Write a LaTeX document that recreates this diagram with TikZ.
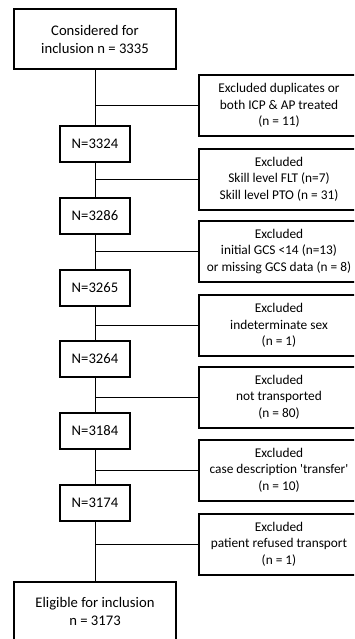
\documentclass[tikz,border=0pt]{standalone}
\usepackage{fontspec}
\setmainfont{Carlito}
\begin{document}
\begin{tikzpicture}[x=0.75pt,y=-0.75pt,
  mainbox/.style={draw,line width=1.5pt,fill=white,align=center,font=\fontsize{11}{13.5}\selectfont,inner sep=0pt},
  nbox/.style={mainbox,minimum width=52.5pt,minimum height=27pt},
  bigbox/.style={mainbox,minimum width=121.5pt,minimum height=45pt},
  exbox/.style={draw,line width=1.5pt,fill=white,align=center,font=\fontsize{10}{12.5}\selectfont,inner sep=0pt,minimum width=120pt,minimum height=45.75pt},
  link/.style={line width=0.75pt}]
\useasboundingbox (0,0) rectangle (354,639);
\clip (0,0) rectangle (354,639);
\fill[white] (0,0) rectangle (354,639);
% main column
\node[bigbox] (top) at (95,39) {Considered for\\inclusion n = 3335};
\node[nbox] (n1) at (95,144) {N=3324};
\node[nbox] (n2) at (95,215.5) {N=3286};
\node[nbox] (n3) at (95,287.5) {N=3265};
\node[nbox] (n4) at (95,359) {N=3264};
\node[nbox] (n5) at (95,431) {N=3184};
\node[nbox] (n6) at (95,502.5) {N=3174};
\node[bigbox] (bot) at (95,611.5) {Eligible for inclusion\\n = 3173};
% exclusion boxes
\node[exbox] (e1) at (279,105.5) {Excluded duplicates or\\both ICP \& AP treated\\(n = 11)};
\node[exbox] (e2) at (279,179) {Excluded\\Skill level FLT (n=7)\\Skill level PTO (n = 31)};
\node[exbox] (e3) at (279,251.5) {Excluded\\initial GCS <14 (n=13)\\or missing GCS data (n = 8)};
\node[exbox] (e4) at (279,325.5) {Excluded\\indeterminate sex\\(n = 1)};
\node[exbox] (e5) at (279,397) {Excluded\\not transported\\(n = 80)};
\node[exbox] (e6) at (279,470) {Excluded\\case description \textquotesingle transfer\textquotesingle\\(n = 10)};
\node[exbox] (e7) at (279,544) {Excluded\\patient refused transport\\(n = 1)};
% vertical connectors
\draw[link] (top) -- (n1);
\draw[link] (n1) -- (n2);
\draw[link] (n2) -- (n3);
\draw[link] (n3) -- (n4);
\draw[link] (n4) -- (n5);
\draw[link] (n5) -- (n6);
\draw[link] (n6) -- (bot);
% horizontal connectors
\draw[link] (e1.west) -- (e1.west -| top.south);
\draw[link] (e2.west) -- (e2.west -| top.south);
\draw[link] (e3.west) -- (e3.west -| top.south);
\draw[link] (e4.west) -- (e4.west -| top.south);
\draw[link] (e5.west) -- (e5.west -| top.south);
\draw[link] (e6.west) -- (e6.west -| top.south);
\draw[link] (e7.west) -- (e7.west -| top.south);
\end{tikzpicture}
\end{document}
